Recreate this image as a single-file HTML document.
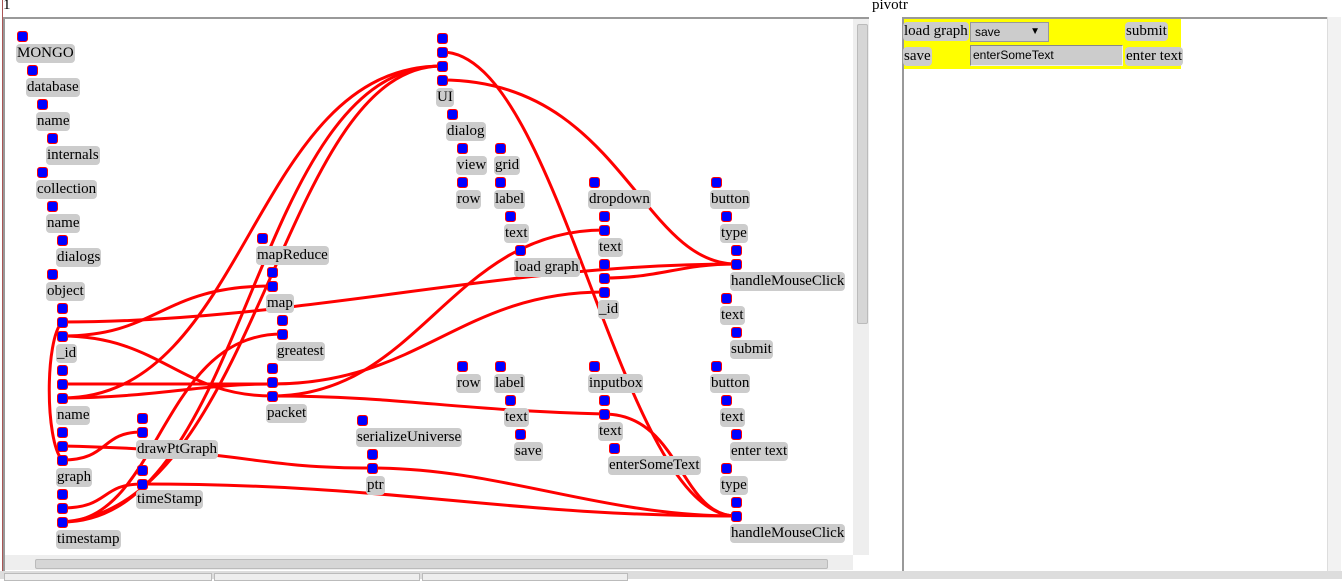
<!DOCTYPE html>
<html><head><meta charset="utf-8"><style>
body{margin:0;width:1342px;height:579px;overflow:hidden;background:#fff;font-family:"Liberation Serif",serif;font-size:15px;position:relative}
.a{position:absolute}
.s{position:absolute;width:9px;height:9px;background:#00f;border:1px solid #f00;border-radius:3px}
.l{position:absolute;background:#ccc;border-radius:4px;height:19px;line-height:19px;padding:0 1px;white-space:nowrap;color:#000}
</style></head><body>
<div class="a" style="left:2px;top:0;width:1px;height:579px;background:#a55"></div>
<div class="a" style="left:3px;top:-3px">1</div>
<div class="a" style="left:872px;top:-3px">pivotr</div>
<div class="a" style="left:3px;top:17px;width:866px;height:2px;background:#999"></div>
<div class="a" style="left:3px;top:17px;width:2px;height:554px;background:#999"></div>
<div class="a" style="left:853px;top:19px;width:16px;height:536px;background:#eee"></div>
<div class="a" style="left:857px;top:24px;width:9px;height:298px;background:#d6d6d6;border:1px solid #bbb;border-radius:2px"></div>
<div class="a" style="left:5px;top:555px;width:848px;height:15px;background:#eee"></div>
<div class="a" style="left:35px;top:559px;width:791px;height:8px;background:#d6d6d6;border:1px solid #bbb;border-radius:2px"></div>
<div class="a" style="left:0;top:571px;width:1342px;height:8px;background:#ddd"></div>
<div class="a" style="left:4px;top:573px;width:206px;height:6px;border:1px solid #bbb;background:#eee"></div>
<div class="a" style="left:214px;top:573px;width:204px;height:6px;border:1px solid #bbb;background:#eee"></div>
<div class="a" style="left:422px;top:573px;width:204px;height:6px;border:1px solid #bbb;background:#eee"></div>
<div class="a" style="left:902px;top:17px;width:426px;height:2px;background:#999"></div>
<div class="a" style="left:902px;top:17px;width:2px;height:554px;background:#999"></div>
<div class="a" style="left:1327px;top:17px;width:13px;height:554px;background:#f2f2f2;border-left:1px solid #ddd"></div>
<div class="a" style="left:904px;top:19px;width:277px;height:50px;background:#ff0"></div>
<div class="l" style="left:903px;top:22px">load graph</div>
<div class="a" style="left:970px;top:22px;box-sizing:border-box;width:79px;height:20px;background:#ccc;border:1px solid #999;font-family:'Liberation Sans',sans-serif;font-size:12px;line-height:18px;padding-left:4px">save<span style="position:absolute;right:8px;font-size:10px">▼</span></div>
<div class="l" style="left:1125px;top:22px">submit</div>
<div class="l" style="left:903px;top:47px">save</div>
<div class="a" style="left:970px;top:45px;width:153px;height:21px;box-sizing:border-box;background:#ccc;border:1px solid #888;border-bottom-color:#eee;border-right-color:#eee;font-family:'Liberation Sans',sans-serif;font-size:12px;line-height:19px;padding-left:2px">enterSomeText</div>
<div class="l" style="left:1125px;top:47px">enter text</div>

<svg class="a" style="left:0;top:0" width="870" height="560">
<g fill="none" stroke="#f00" stroke-width="3">
<path d="M442 66 C250 66 250 398 62 398"/>
<path d="M442 66 C250 66 250 522 62 522"/>
<path d="M442 66 C280 66 260 508 62 522"/>
<path d="M442 52 C560 52 620 516 736 516"/>
<path d="M442 80 C620 80 640 264 736 264"/>
<path d="M62 322 C300 322 500 264 736 264"/>
<path d="M604 278 C660 278 680 264 736 264"/>
<path d="M62 336 C160 336 160 286 272 286"/>
<path d="M62 336 C160 336 180 396 272 396 C400 396 450 410 604 414 C680 414 680 516 736 516"/>
<path d="M272 396 C420 396 450 230 604 230"/>
<path d="M62 384 C150 384 200 384 272 384 C420 384 460 292 604 292"/>
<path d="M62 398 C150 398 200 384 272 384"/>
<path d="M282 334 C160 334 160 522 62 522"/>
<path d="M62 322 C45 340 45 440 62 460"/>
<path d="M62 460 C110 460 100 432 142 432"/>
<path d="M62 446 C250 450 250 468 372 468 C500 468 600 516 736 516"/>
<path d="M62 508 C110 508 100 484 142 484 C400 484 500 516 736 516"/>
</g>
</svg>

<div class="s" style="left:17px;top:31px"></div><div class="l" style="left:16px;top:44px">MONGO</div>
<div class="s" style="left:27px;top:65px"></div><div class="l" style="left:26px;top:78px">database</div>
<div class="s" style="left:37px;top:99px"></div><div class="l" style="left:36px;top:112px">name</div>
<div class="s" style="left:47px;top:133px"></div><div class="l" style="left:46px;top:146px">internals</div>
<div class="s" style="left:37px;top:167px"></div><div class="l" style="left:36px;top:180px">collection</div>
<div class="s" style="left:47px;top:201px"></div><div class="l" style="left:46px;top:214px">name</div>
<div class="s" style="left:57px;top:235px"></div><div class="l" style="left:56px;top:248px">dialogs</div>
<div class="s" style="left:47px;top:269px"></div><div class="l" style="left:46px;top:282px">object</div>
<div class="s" style="left:57px;top:303px"></div><div class="s" style="left:57px;top:317px"></div><div class="s" style="left:57px;top:331px"></div><div class="l" style="left:56px;top:344px">_id</div>
<div class="s" style="left:57px;top:365px"></div><div class="s" style="left:57px;top:379px"></div><div class="s" style="left:57px;top:393px"></div><div class="l" style="left:56px;top:406px">name</div>
<div class="s" style="left:57px;top:427px"></div><div class="s" style="left:57px;top:441px"></div><div class="s" style="left:57px;top:455px"></div><div class="l" style="left:56px;top:468px">graph</div>
<div class="s" style="left:57px;top:489px"></div><div class="s" style="left:57px;top:503px"></div><div class="s" style="left:57px;top:517px"></div><div class="l" style="left:56px;top:530px">timestamp</div>
<div class="s" style="left:137px;top:413px"></div><div class="s" style="left:137px;top:427px"></div><div class="l" style="left:136px;top:440px">drawPtGraph</div>
<div class="s" style="left:137px;top:465px"></div><div class="s" style="left:137px;top:479px"></div><div class="l" style="left:136px;top:490px">timeStamp</div>
<div class="s" style="left:257px;top:233px"></div><div class="l" style="left:256px;top:246px">mapReduce</div>
<div class="s" style="left:267px;top:267px"></div><div class="s" style="left:267px;top:281px"></div><div class="l" style="left:266px;top:294px">map</div>
<div class="s" style="left:277px;top:315px"></div><div class="s" style="left:277px;top:329px"></div><div class="l" style="left:276px;top:342px">greatest</div>
<div class="s" style="left:267px;top:363px"></div><div class="s" style="left:267px;top:377px"></div><div class="s" style="left:267px;top:391px"></div><div class="l" style="left:266px;top:404px">packet</div>
<div class="s" style="left:357px;top:415px"></div><div class="l" style="left:356px;top:428px">serializeUniverse</div>
<div class="s" style="left:367px;top:449px"></div><div class="s" style="left:367px;top:463px"></div><div class="l" style="left:366px;top:476px">ptr</div>
<div class="s" style="left:437px;top:33px"></div><div class="s" style="left:437px;top:47px"></div><div class="s" style="left:437px;top:61px"></div><div class="s" style="left:437px;top:75px"></div><div class="l" style="left:436px;top:88px">UI</div>
<div class="s" style="left:447px;top:109px"></div><div class="l" style="left:446px;top:122px">dialog</div>
<div class="s" style="left:457px;top:143px"></div><div class="l" style="left:456px;top:156px">view</div>
<div class="s" style="left:495px;top:143px"></div><div class="l" style="left:494px;top:156px">grid</div>
<div class="s" style="left:457px;top:177px"></div><div class="l" style="left:456px;top:190px">row</div>
<div class="s" style="left:495px;top:177px"></div><div class="l" style="left:494px;top:190px">label</div>
<div class="s" style="left:505px;top:211px"></div><div class="l" style="left:504px;top:224px">text</div>
<div class="s" style="left:515px;top:245px"></div><div class="l" style="left:514px;top:258px">load graph</div>
<div class="s" style="left:589px;top:177px"></div><div class="l" style="left:588px;top:190px">dropdown</div>
<div class="s" style="left:599px;top:211px"></div><div class="s" style="left:599px;top:225px"></div><div class="l" style="left:598px;top:238px">text</div>
<div class="s" style="left:599px;top:259px"></div><div class="s" style="left:599px;top:273px"></div><div class="s" style="left:599px;top:287px"></div><div class="l" style="left:598px;top:300px">_id</div>
<div class="s" style="left:711px;top:177px"></div><div class="l" style="left:710px;top:190px">button</div>
<div class="s" style="left:721px;top:211px"></div><div class="l" style="left:720px;top:224px">type</div>
<div class="s" style="left:731px;top:245px"></div><div class="s" style="left:731px;top:259px"></div><div class="l" style="left:730px;top:272px">handleMouseClick</div>
<div class="s" style="left:721px;top:293px"></div><div class="l" style="left:720px;top:306px">text</div>
<div class="s" style="left:731px;top:327px"></div><div class="l" style="left:730px;top:340px">submit</div>
<div class="s" style="left:457px;top:361px"></div><div class="l" style="left:456px;top:374px">row</div>
<div class="s" style="left:495px;top:361px"></div><div class="l" style="left:494px;top:374px">label</div>
<div class="s" style="left:505px;top:395px"></div><div class="l" style="left:504px;top:408px">text</div>
<div class="s" style="left:515px;top:429px"></div><div class="l" style="left:514px;top:442px">save</div>
<div class="s" style="left:589px;top:361px"></div><div class="l" style="left:588px;top:374px">inputbox</div>
<div class="s" style="left:599px;top:395px"></div><div class="s" style="left:599px;top:409px"></div><div class="l" style="left:598px;top:422px">text</div>
<div class="s" style="left:609px;top:443px"></div><div class="l" style="left:608px;top:456px">enterSomeText</div>
<div class="s" style="left:711px;top:361px"></div><div class="l" style="left:710px;top:374px">button</div>
<div class="s" style="left:721px;top:395px"></div><div class="l" style="left:720px;top:408px">text</div>
<div class="s" style="left:731px;top:429px"></div><div class="l" style="left:730px;top:442px">enter text</div>
<div class="s" style="left:721px;top:463px"></div><div class="l" style="left:720px;top:476px">type</div>
<div class="s" style="left:731px;top:497px"></div><div class="s" style="left:731px;top:511px"></div><div class="l" style="left:730px;top:524px">handleMouseClick</div>
</body></html>
